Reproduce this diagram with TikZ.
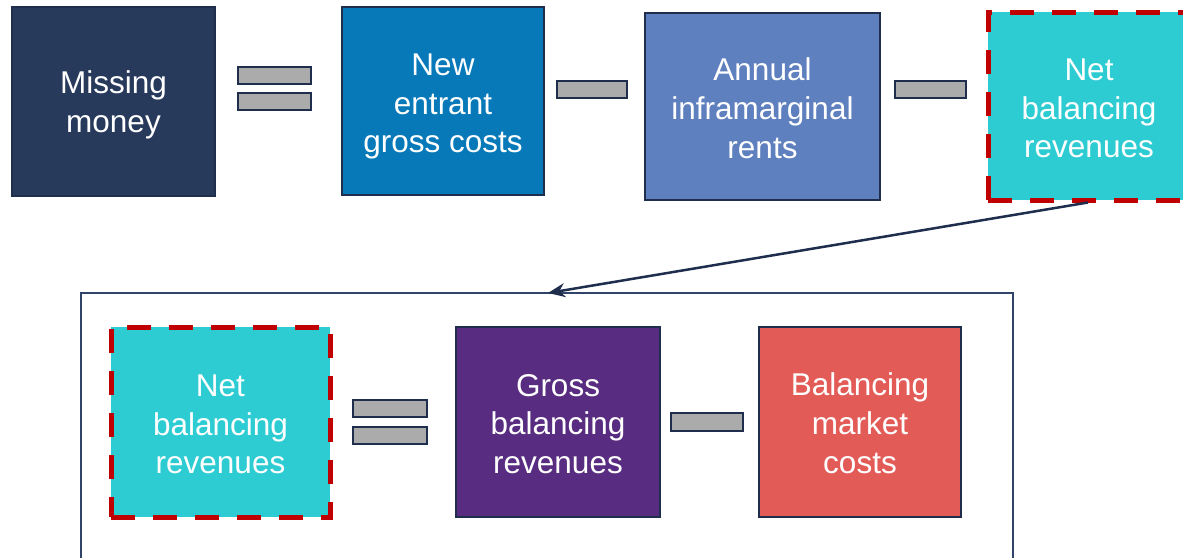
\documentclass[tikz,border=0pt]{standalone}
\usepackage{fontspec}
\setmainfont{Liberation Sans}
\usetikzlibrary{arrows.meta}
\definecolor{navy}{HTML}{1F2E4D}
\definecolor{cmiss}{HTML}{273A5C}
\definecolor{cnew}{HTML}{0779B8}
\definecolor{cann}{HTML}{5F80BE}
\definecolor{cteal}{HTML}{2DCCD3}
\definecolor{cpurp}{HTML}{582C80}
\definecolor{cred}{HTML}{E35B57}
\definecolor{dred}{HTML}{C00000}
\definecolor{cgray}{HTML}{ABABAB}
\definecolor{cbox}{HTML}{2F4468}
\tikzset{
  txt/.style={text=white, align=center, font=\fontsize{31.5}{38.8}\selectfont, inner sep=0pt},
  termbox/.style={draw=navy, line width=2.5pt, inner sep=0pt},
  netbox/.style={fill=cteal, draw=dred, line width=5pt, dash pattern=on 24pt off 18pt, inner sep=0pt},
  bar/.style={fill=cgray, draw=navy, line width=2.5pt, inner sep=0pt},
}
\begin{document}
\begin{tikzpicture}[x=1pt,y=-1pt]
\useasboundingbox (0,0) rectangle (1183,557);
% container
\draw[cbox, line width=2pt] (81,600) -- (81,293) -- (1013,293) -- (1013,600);
\coordinate (cin) at (548,293);
% top row
\node[termbox, fill=cmiss, minimum width=203pt, minimum height=189pt,
  label={[txt, yshift=-3.5pt]center:{Missing\\money}}] (miss) at (113.5,101.5) {};
\node[bar, minimum width=73pt, minimum height=17pt] (eq1a) at (274.5,75.5) {};
\node[bar, minimum width=73pt, minimum height=17pt] (eq1b) at (274.5,101.5) {};
\node[termbox, fill=cnew, minimum width=202pt, minimum height=188pt,
  label={[txt, yshift=-5.5pt]center:{New\\entrant\\gross costs}}] (new) at (443,101) {};
\node[bar, minimum width=70pt, minimum height=17pt] (mi1) at (592,89.5) {};
\node[termbox, fill=cann, minimum width=235pt, minimum height=187pt,
  label={[txt, yshift=-1.5pt]center:{Annual\\inframarginal\\rents}}] (ann) at (762.5,106.5) {};
\node[bar, minimum width=71pt, minimum height=17pt] (mi2) at (930.5,89.5) {};
\node[netbox, minimum width=202pt, minimum height=188pt,
  label={[txt, yshift=-2.5pt]center:{Net\\balancing\\revenues}}] (net1) at (1089,106) {};
% bottom row
\node[netbox, minimum width=219pt, minimum height=190pt,
  label={[txt, yshift=-2.5pt]center:{Net\\balancing\\revenues}}] (net2) at (220.5,422) {};
\node[bar, minimum width=74pt, minimum height=17pt] (eq2a) at (390,408.5) {};
\node[bar, minimum width=74pt, minimum height=17pt] (eq2b) at (390,435.5) {};
\node[termbox, fill=cpurp, minimum width=204pt, minimum height=190pt,
  label={[txt, yshift=-2pt]center:{Gross\\balancing\\revenues}}] (gross) at (558,422) {};
\node[bar, minimum width=72pt, minimum height=18pt] (mi3) at (707,422) {};
\node[termbox, fill=cred, minimum width=202pt, minimum height=190pt,
  label={[txt, yshift=-1.5pt]center:{Balancing\\market\\costs}}] (bmc) at (860,422) {};
% arrow
\draw[navy, line width=2.5pt, -{Stealth[length=17pt,width=14pt]}] ([xshift=-1pt]net1.south) -- (cin);
\end{tikzpicture}
\end{document}
